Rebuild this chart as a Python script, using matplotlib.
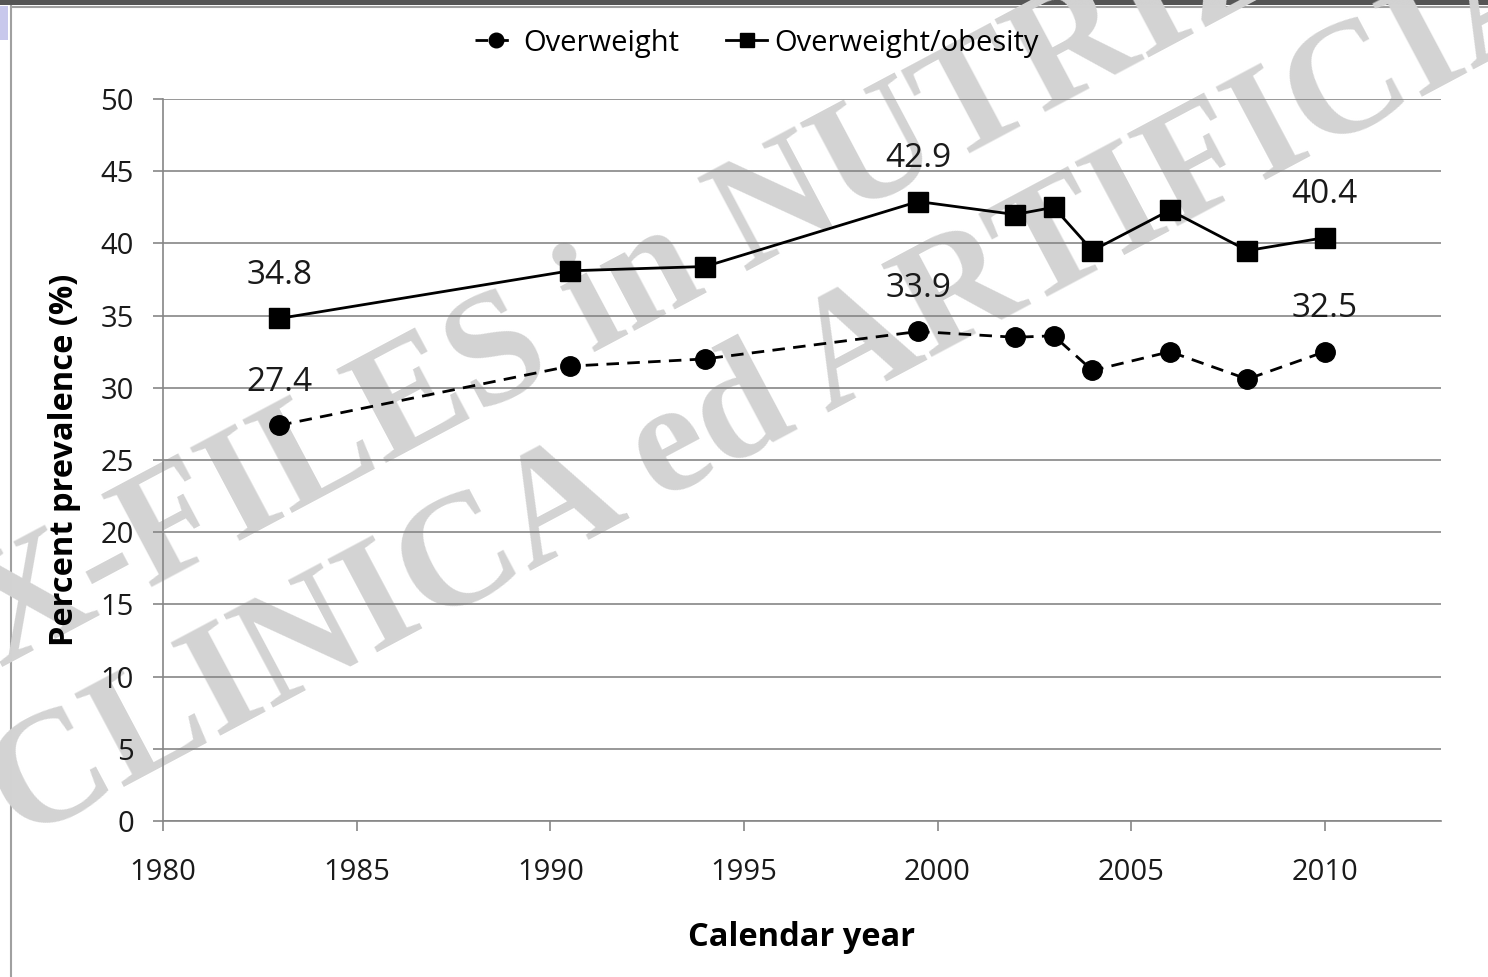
import matplotlib
matplotlib.use("Agg")
import matplotlib.pyplot as plt
from matplotlib.lines import Line2D
from matplotlib.patches import Rectangle

years = [1983, 1990.5, 1994, 1999.5, 2002, 2003, 2004, 2006, 2008, 2010]
overweight = [27.4, 31.5, 32.0, 33.9, 33.5, 33.6, 31.2, 32.5, 30.6, 32.5]
overweight_obesity = [34.8, 38.1, 38.4, 42.9, 42.0, 42.5, 39.5, 42.3, 39.5, 40.4]
labelled_idx = [0, 3, 9]
x_ticks = [1980, 1985, 1990, 1995, 2000, 2005, 2010]
y_ticks = list(range(0, 51, 5))

FONT = "Open Sans"
plt.rcParams['font.family'] = [FONT, 'DejaVu Sans']

fig = plt.figure(figsize=(14.88, 9.77), dpi=100)
ax = fig.add_axes([163/1488, 1-821/977, (1441-163)/1488, (821-99)/977])
ax.patch.set_alpha(0)

def fx(px):
    return px / 1488

def fy(py):
    return 1 - py / 977

# frame decorations
fig.patches.append(Rectangle((0, fy(5)), 1, 5/977, transform=fig.transFigure,
                             facecolor='#555555', edgecolor='none', zorder=-3))
fig.add_artist(Line2D([fx(11), fx(11)], [0, fy(6)], transform=fig.transFigure,
                      color='#a0a0a0', lw=1.5, zorder=-2))
fig.add_artist(Line2D([fx(11), 1], [fy(7), fy(7)], transform=fig.transFigure,
                      color='#a0a0a0', lw=1.5, zorder=-2))
fig.patches.append(Rectangle((0, fy(40)), 8/1488, 34/977, transform=fig.transFigure,
                             facecolor='#c8c8ec', edgecolor='none', zorder=-3))

# watermark
wm_kw = dict(family=['Liberation Serif', 'DejaVu Serif'], fontweight='bold',
             color='#d3d3d3', rotation=28, rotation_mode='anchor',
             ha='left', va='baseline', zorder=-1, transform=fig.transFigure)
fig.text(fx(0), fy(668), "X-FILES in NUTRIZIONE", fontsize=115, **wm_kw)
fig.text(fx(20), fy(842), "CLINICA ed ARTIFICIALE", fontsize=115, **wm_kw)

gray = '#868686'
ax.plot(years, overweight, color='black', lw=2.0, linestyle=(0, (4.5, 3)),
        marker='o', markersize=14, zorder=3, label='Overweight')
ax.plot(years, overweight_obesity, color='black', lw=2.0, linestyle='-',
        marker='s', markersize=14, zorder=3, label='Overweight/obesity')

for i in labelled_idx:
    for ser in (overweight, overweight_obesity):
        ax.annotate(f"{ser[i]:.1f}", (years[i], ser[i]), xytext=(0, 31),
                    textcoords='offset points', ha='center', va='center',
                    fontsize=24, color='#1a1a1a', zorder=4)

ax.set_xlim(1980, 2013)
ax.set_ylim(0, 50)
ax.set_xticks(x_ticks)
ax.set_yticks(y_ticks)
ax.grid(axis='y', color=gray, lw=1.2)
ax.set_axisbelow(True)
for s in ('top', 'right'):
    ax.spines[s].set_visible(False)
for s in ('left', 'bottom'):
    ax.spines[s].set_color(gray)
    ax.spines[s].set_linewidth(1.2)
ax.tick_params(axis='both', direction='out', length=7, width=1.2, color=gray,
               labelsize=21, labelcolor='#1a1a1a')
ax.tick_params(axis='y', pad=14)
ax.tick_params(axis='x', pad=20)

ax.set_xlabel("Calendar year", fontsize=23.5, fontweight='bold', labelpad=24)
ax.set_ylabel("Percent prevalence (%)", fontsize=23.5, fontweight='bold', labelpad=14)

leg = fig.legend(loc='center', bbox_to_anchor=(fx(757), fy(43)), ncol=2,
                 frameon=False, fontsize=21, handlelength=1.4, columnspacing=1.6,
                 handletextpad=0.25, markerscale=0.75)

fig.savefig("out.png", dpi=100)
